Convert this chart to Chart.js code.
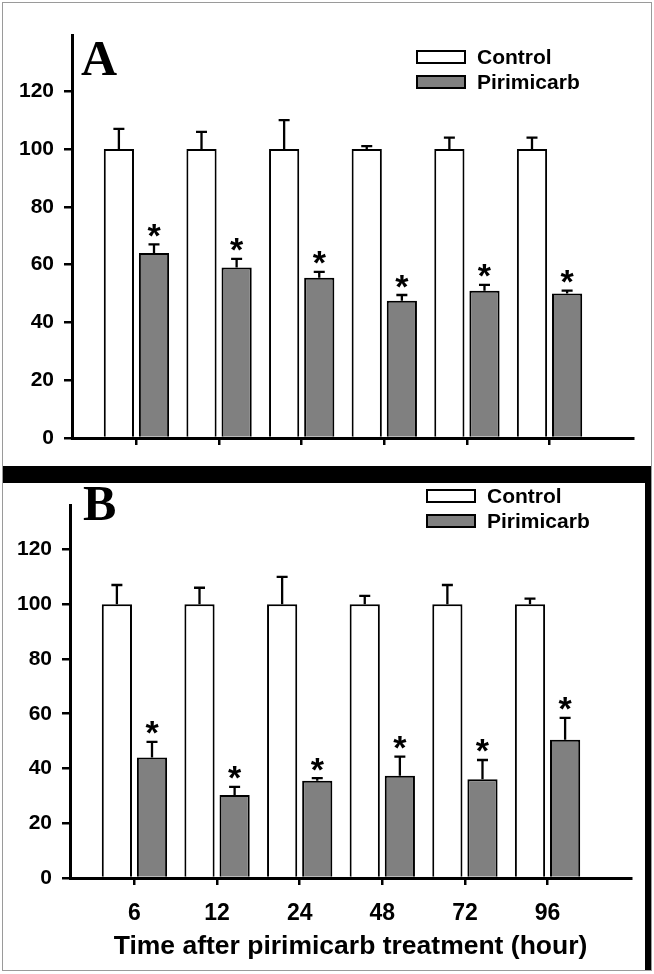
<!DOCTYPE html>
<html>
<head>
<meta charset="utf-8">
<script src="https://cdn.jsdelivr.net/npm/chart.js@4"></script>
<style>
  html, body { margin: 0; padding: 0; background: #fff; }
  #page { position: relative; width: 654px; height: 974px; overflow: hidden; background: #fff; }
  canvas { position: absolute; left: 0; }
  #chartA { top: 0; }
  #chartB { top: 483px; }
  #frame { position: absolute; left: 2px; top: 2px; width: 650px; height: 969px; border: 1px solid #9a9a9a; box-sizing: border-box; }
  #band { position: absolute; left: 3px; top: 466px; width: 648px; height: 17px; background: #000; }
  #edgeB { position: absolute; left: 645px; top: 483px; width: 6px; height: 487px; background: #000; }
</style>
</head>
<body>
<div id="page">
  <div id="frame"></div>
  <canvas id="chartA" width="654" height="466"></canvas>
  <div id="band"></div>
  <canvas id="chartB" width="654" height="491"></canvas>
  <div id="edgeB"></div>
</div>
<script>
// Data (relative values, %)
const timeLabels = ["6", "12", "24", "48", "72", "96"];
const yTicks = [0, 20, 40, 60, 80, 100, 120];

const controlA = [100, 100, 100, 100, 100, 100];
const controlErrA = [7, 6, 10, 1, 4, 4];
const pirimicarbA = [64, 59, 55.5, 47.5, 51, 50];
const pirimicarbErrA = [3, 3, 2, 2, 2, 1];

const controlB = [100, 100, 100, 100, 100, 100];
const controlErrB = [7, 6, 10, 3, 7, 2];
const pirimicarbB = [44, 30.3, 35.5, 37.3, 36.1, 50.5];
const pirimicarbErrB = [5.7, 3, 1, 7, 7, 8];

const SANS = "'Liberation Sans', Arial, sans-serif";
const SERIF = "'Liberation Serif', 'Times New Roman', serif";

// Error bars (upper only) + asterisks over the treated bars
const errorBarPlugin = {
  id: "errorBars",
  afterDatasetsDraw(chart) {
    const ctx = chart.ctx;
    const yScale = chart.scales.y;
    chart.data.datasets.forEach((ds, i) => {
      const meta = chart.getDatasetMeta(i);
      meta.data.forEach((bar, j) => {
        const v = ds.data[j].y;
        const top = yScale.getPixelForValue(v + ds.errors[j]);
        ctx.save();
        ctx.strokeStyle = "#000";
        ctx.lineWidth = 2.3;
        ctx.beginPath();
        ctx.moveTo(bar.x, bar.y);
        ctx.lineTo(bar.x, top);
        ctx.moveTo(bar.x - 5.5, top);
        ctx.lineTo(bar.x + 5.5, top);
        ctx.stroke();
        if (ds.stars) {
          ctx.font = "bold 34px " + SANS;
          ctx.fillStyle = "#000";
          ctx.textAlign = "center";
          ctx.textBaseline = "alphabetic";
          const m = ctx.measureText("*");
          const centre = top - 14;
          const base = centre - (m.actualBoundingBoxDescent - m.actualBoundingBoxAscent) / 2;
          ctx.fillText("*", bar.x, base);
        }
        ctx.restore();
      });
    });
  },
};

// Panel letter and legend
const panelPlugin = {
  id: "panelDecor",
  afterDraw(chart, args, opts) {
    const ctx = chart.ctx;
    ctx.save();
    ctx.fillStyle = "#000";
    ctx.font = "bold 50px " + SERIF;
    ctx.textAlign = "left";
    ctx.textBaseline = "alphabetic";
    ctx.fillText(opts.letter, opts.letterX, opts.letterY);

    chart.data.datasets.forEach((ds, i) => {
      const cy = opts.legendY + i * 25;
      ctx.fillStyle = ds.backgroundColor;
      ctx.fillRect(opts.legendX, cy - 6, 48, 12);
      ctx.strokeStyle = "#000";
      ctx.lineWidth = 2;
      ctx.strokeRect(opts.legendX, cy - 6, 48, 12);
      ctx.fillStyle = "#000";
      ctx.font = "bold 21px " + SANS;
      ctx.textBaseline = "middle";
      ctx.fillText(ds.label, opts.legendX + 60, cy + 1);
    });
    ctx.restore();
  },
};

function toPoints(values) {
  return values.map((v, i) => ({ x: i, y: v }));
}

function makePanel(id, control, controlErr, treated, treatedErr, cfg) {
  return new Chart(document.getElementById(id), {
    type: "bar",
    data: {
      datasets: [
        {
          label: "Control",
          data: toPoints(control),
          errors: controlErr,
          backgroundColor: "#ffffff",
          borderColor: "#000",
          borderWidth: 2,
          categoryPercentage: 0.85,
          barPercentage: 0.86,
        },
        {
          label: "Pirimicarb",
          data: toPoints(treated),
          errors: treatedErr,
          stars: true,
          backgroundColor: "#808080",
          borderColor: "#000",
          borderWidth: 2,
          categoryPercentage: 0.85,
          barPercentage: 0.86,
        },
      ],
    },
    options: {
      responsive: false,
      animation: false,
      devicePixelRatio: 1,
      layout: { padding: cfg.padding },
      plugins: {
        legend: { display: false },
        tooltip: { enabled: false },
        panelDecor: cfg.decor,
      },
      scales: {
        x: {
          type: "linear",
          min: -0.78,
          max: 6.01,
          offset: false,
          afterBuildTicks: (s) => {
            s.ticks = timeLabels.map((_, i) => ({ value: i }));
          },
          afterFit: (s) => {
            s.height = cfg.xHeight;
          },
          ticks: {
            display: cfg.showX,
            callback: (v) => timeLabels[v],
            padding: 15,
            maxRotation: 0,
            autoSkip: false,
            color: "#000",
            font: { family: SANS, size: 23, weight: "bold" },
          },
          grid: { offset: false, drawOnChartArea: false, tickLength: 7, color: "#000", lineWidth: 2.5 },
          border: { color: "#000", width: 3 },
          title: {
            display: cfg.showX,
            text: "Time after pirimicarb treatment (hour)",
            color: "#000",
            font: { family: SANS, size: 26.5, weight: "bold" },
            padding: { top: 0, bottom: 11 },
          },
        },
        y: {
          min: 0,
          max: cfg.yMax,
          afterBuildTicks: (s) => {
            s.ticks = yTicks.map((v) => ({ value: v }));
          },
          afterFit: (s) => {
            s.width = cfg.yWidth;
          },
          ticks: {
            padding: 10,
            color: "#000",
            font: { family: SANS, size: 21, weight: "bold" },
          },
          grid: { drawOnChartArea: false, tickLength: 8, color: "#000", lineWidth: 2.5 },
          border: { color: "#000", width: 3 },
        },
      },
    },
    plugins: [errorBarPlugin, panelPlugin],
  });
}

makePanel("chartA", controlA, controlErrA, pirimicarbA, pirimicarbErrA, {
  padding: { top: 35, right: 21, left: 0, bottom: 0 },
  xHeight: 28,
  yWidth: 72,
  yMax: 139.5,
  showX: false,
  decor: { letter: "A", letterX: 81, letterY: 75, legendX: 417, legendY: 57 },
});

makePanel("chartB", controlB, controlErrB, pirimicarbB, pirimicarbErrB, {
  padding: { top: 0, right: 23, left: 0, bottom: 0 },
  xHeight: 96,
  yWidth: 70,
  yMax: 136,
  showX: true,
  decor: { letter: "B", letterX: 83, letterY: 37, legendX: 427, legendY: 13 },
});
</script>
</body>
</html>
